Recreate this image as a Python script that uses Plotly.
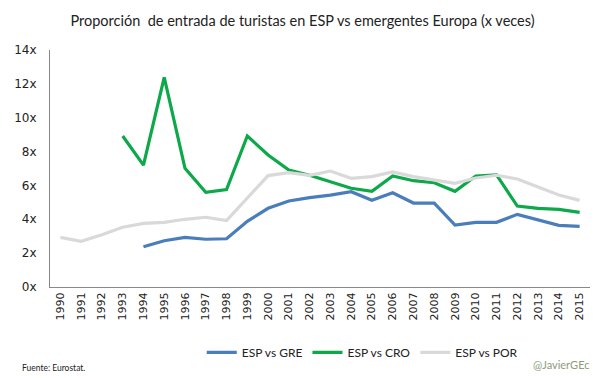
import plotly.graph_objects as go

years = [str(y) for y in range(1990, 2016)]
gre = [None, None, None, None, 2.38, 2.73, 2.93, 2.82, 2.85, 3.88, 4.65, 5.08, 5.28, 5.43,
       5.63, 5.12, 5.57, 4.96, 4.96, 3.66, 3.82, 3.82, 4.29, 3.96, 3.64, 3.58]
cro = [None, None, None, 8.92, 7.2, 12.38, 7.01, 5.59, 5.75, 8.92, 7.8, 6.91, 6.6, 6.22,
       5.83, 5.65, 6.56, 6.28, 6.16, 5.65, 6.56, 6.62, 4.78, 4.65, 4.59, 4.41]
por = [2.93, 2.7, 3.09, 3.53, 3.76, 3.82, 4.0, 4.12, 3.92, 5.24, 6.58, 6.75, 6.6, 6.85,
       6.42, 6.52, 6.8, 6.52, 6.34, 6.12, 6.44, 6.6, 6.38, 5.92, 5.43, 5.12]
y_ticks = [0, 2, 4, 6, 8, 10, 12, 14]
y_labels = [f"{v}x" for v in y_ticks]

FONT = "Lato, Liberation Sans, sans-serif"

fig = go.Figure()
fig.add_trace(go.Scatter(x=years, y=gre, name="ESP vs GRE", mode="lines",
                         line=dict(color="#4A7EBB", width=3.2), connectgaps=False))
fig.add_trace(go.Scatter(x=years, y=cro, name="ESP vs CRO", mode="lines",
                         line=dict(color="#0DA84A", width=3.2), connectgaps=False))
fig.add_trace(go.Scatter(x=years, y=por, name="ESP vs POR", mode="lines",
                         line=dict(color="#D9D9D9", width=3.2), connectgaps=False))

fig.update_layout(
    width=605, height=378,
    paper_bgcolor="white", plot_bgcolor="white",
    margin=dict(l=50, r=15, t=50, b=91, autoexpand=False),
    font=dict(family=FONT, color="#222222", size=12),
    title=dict(text="Proporción  de entrada de turistas en ESP vs emergentes Europa (x veces)",
               x=0.5, xanchor="center", y=0.945, yanchor="middle",
               font=dict(size=14.5, color="#222222", family=FONT)),
    showlegend=True,
    legend=dict(orientation="h", x=0.281, xanchor="left", y=-0.215, yanchor="top",
                font=dict(size=12, color="#222222"), itemwidth=30,
                bgcolor="rgba(0,0,0,0)", tracegroupgap=0),
    hovermode=False,
)
fig.update_xaxes(type="category", range=[-0.5, 25.5], tickangle=-90, automargin=False,
                 showline=True, linecolor="#888888", linewidth=1, ticks="",
                 showgrid=False, tickfont=dict(size=11, family="DejaVu Sans, sans-serif", color="#222222"),
                 zeroline=False)
fig.update_yaxes(range=[0, 14], tickvals=y_ticks, ticktext=y_labels, automargin=False,
                 showline=True, linecolor="#888888", linewidth=1, ticks="",
                 showgrid=False, zeroline=False, ticklabelstandoff=10,
                 tickfont=dict(size=12, family="DejaVu Sans, sans-serif", color="#222222"))

fig.add_annotation(text="Fuente: Eurostat.", xref="paper", yref="paper",
                   x=-0.0556, y=-0.342, xanchor="left", yanchor="middle", showarrow=False,
                   font=dict(size=8.5, color="#222222", family=FONT))
fig.add_annotation(text="@JavierGEc", xref="paper", yref="paper",
                   x=1.0037, y=-0.325, xanchor="right", yanchor="middle", showarrow=False,
                   font=dict(size=11, color="#8C9C7C", family=FONT))

fig.write_html("out.html", config={"displayModeBar": False, "staticPlot": True},
               post_script="document.body.style.margin='0';document.body.style.padding='0';"
                           "document.body.style.overflow='hidden';")
